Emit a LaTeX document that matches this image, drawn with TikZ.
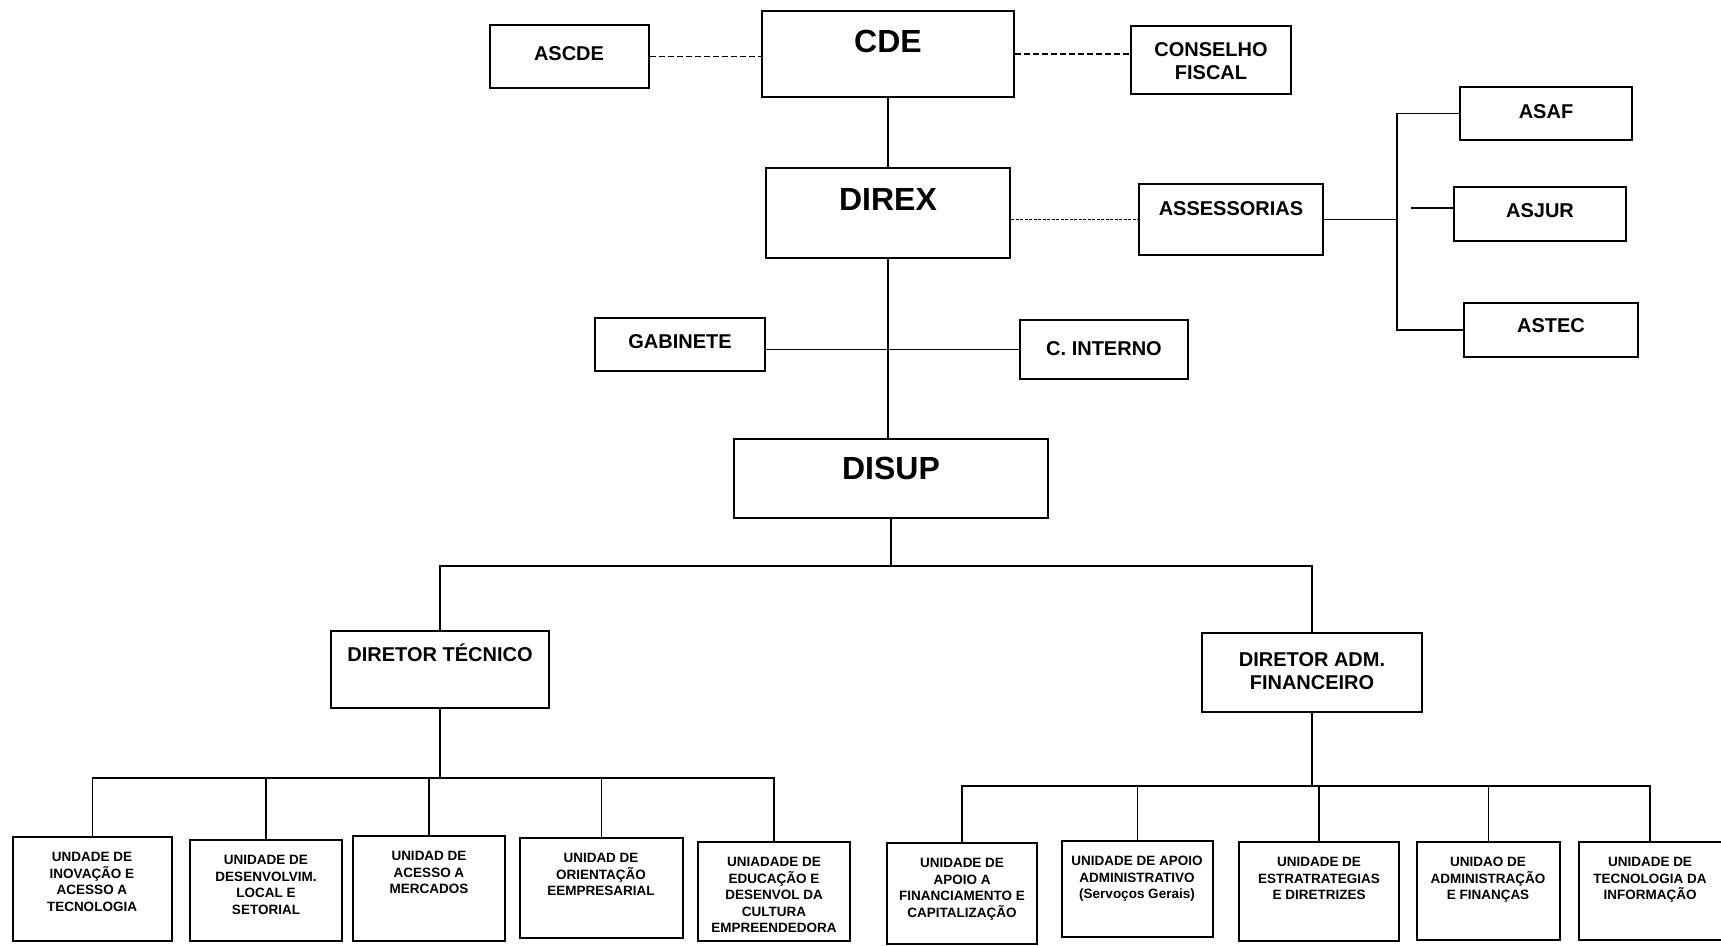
\documentclass[tikz,border=0pt]{standalone}
\usepackage{fontspec}
\setmainfont{Liberation Sans}
\usetikzlibrary{fit}
\begin{document}
\begin{tikzpicture}[x=1pt,y=-1pt,
  box/.style={draw, line width=2pt, inner sep=0pt},
  link/.style={line width=1.5pt},
  big/.style={font=\fontsize{32}{36}\selectfont\bfseries, inner sep=0pt},
  mid/.style={font=\fontsize{20}{22.5}\selectfont\bfseries, inner sep=0pt, align=center},
  small/.style={font=\fontsize{13.5}{16.5}\selectfont\bfseries, inner sep=0pt, align=center, anchor=north},
]
\fill[white] (0,0) rectangle (1721,945);
\useasboundingbox (0,0) rectangle (1721,945);

% --- council level
\node[box, fit={(490,25) (649,88)}] (ascde) {};
\node[box, fit={(762,11) (1014,97)}] (cde) {};
\node[box, fit={(1131,26) (1291,94)}] (cf) {};
\node[mid] (ascde-t) at (569,54) {ASCDE};
\node[big] (cde-t) at (888,41) {CDE};
\node[mid] (cf-t) at (1211,61) {CONSELHO\\FISCAL};

% --- executive board and advisors
\node[box, fit={(766,168) (1010,258)}] (direx) {};
\node[box, fit={(1139,184) (1323,255)}] (ass) {};
\node[box, fit={(1460,87) (1632,140)}] (asaf) {};
\node[box, fit={(1454,187) (1626,241)}] (asjur) {};
\node[box, fit={(1464,303) (1638,357)}] (astec) {};
\node[big] (direx-t) at (888,199) {DIREX};
\node[mid] (ass-t) at (1231,209) {ASSESSORIAS};
\node[mid] (asaf-t) at (1546,112) {ASAF};
\node[mid] (asjur-t) at (1540,211) {ASJUR};
\node[mid] (astec-t) at (1551,326) {ASTEC};

% --- staff offices
\node[box, fit={(595,318) (765,371)}] (gab) {};
\node[box, fit={(1020,320) (1188,379)}] (ci) {};
\node[mid] (gab-t) at (680,342) {GABINETE};
\node[mid] (ci-t) at (1104,349) {C. INTERNO};

% --- superintendence and directors
\node[box, fit={(734,439) (1048,518)}] (disup) {};
\node[big] (disup-t) at (891,468) {DISUP};
\node[box, fit={(331,631) (549,708)}] (dt) {};
\node[box, fit={(1202,633) (1422,712)}] (daf) {};
\node[mid] (dt-t) at (440,653) {DIRETOR TÉCNICO};
\node[mid] (daf-t) at (1312,671) {DIRETOR ADM.\\FINANCEIRO};

% --- technical units
\node[box, fit={(13,837) (172,941)}] (u1) {};
\node[box, fit={(190,840) (342,941)}] (u2) {};
\node[box, fit={(353,836) (505,941)}] (u3) {};
\node[box, fit={(520,838) (683,938)}] (u4) {};
\node[box, fit={(698,842) (850,941)}] (u5) {};
\node[small] (u1-t) at (92,852) {UNDADE DE\\INOVAÇÃO E\\ACESSO A\\TECNOLOGIA};
\node[small] (u2-t) at (266,855) {UNIDADE DE\\DESENVOLVIM.\\LOCAL E\\SETORIAL};
\node[small] (u3-t) at (429,851) {UNIDAD DE\\ACESSO A\\MERCADOS};
\node[small] (u4-t) at (601,853) {UNIDAD DE\\ORIENTAÇÃO\\EEMPRESARIAL};
\node[small] (u5-t) at (774,857) {UNIADADE DE\\EDUCAÇÃO E\\DESENVOL DA\\CULTURA\\EMPREENDEDORA};

% --- administrative units
\node[box, fit={(887,843) (1037,944)}] (u6) {};
\node[box, fit={(1062,841) (1213,937)}] (u7) {};
\node[box, fit={(1239,842) (1399,941)}] (u8) {};
\node[box, fit={(1417,842) (1560,940)}] (u9) {};
\node[box, fit={(1579,842) (1728,940)}] (u10) {};
\node[small] (u6-t) at (962,858) {UNIDADE DE\\APOIO A\\FINANCIAMENTO E\\CAPITALIZAÇÃO};
\node[small] (u7-t) at (1137,856) {UNIDADE DE APOIO\\ADMINISTRATIVO\\(Servoços Gerais)};
\node[small] (u8-t) at (1319,857) {UNIDADE DE\\ESTRATRATEGIAS\\E DIRETRIZES};
\node[small] (u9-t) at (1488,857) {UNIDAO DE\\ADMINISTRAÇÃO\\E FINANÇAS};
\node[small] (u10-t) at (1650,857) {UNIDADE DE\\TECNOLOGIA DA\\INFORMAÇÃO};

% --- connectors
\draw[link, dash pattern=on 6pt off 3pt] (ascde.east) -- (ascde.east -| cde.west);
\draw[link, dash pattern=on 6pt off 3pt] (cde.east) -- (cde.east -| cf.west);
\draw[link, dash pattern=on 3pt off 1.5pt] (direx.east |- ass.west) -- (ass.west);
\draw[link] (cde.south) -- (direx.north);
\draw[link] (direx.south) -- (direx.south |- disup.north);
\draw[link] (gab.east |- ci.west) -- (ci.west);

\coordinate (abus) at ([xshift=-62pt]asaf.west);
\draw[link] (asaf.west) -- (abus) |- (astec.west);
\draw[link] (ass.east) -- (ass.east -| abus);
\draw[link] ([yshift=6pt]asjur.west) -- ++(-42,0);

\coordinate (j1) at ([yshift=-47pt]disup.south);
\draw[link] (disup.south) -- (j1);
\draw[link] (dt.north) |- (j1) -| (daf.north);

\coordinate (j2) at ([yshift=-69pt]dt.south);
\draw[link] (dt.south) -- (j2);
\draw[link] (u1.north) |- (j2) -| (u5.north);
\foreach \u in {u2,u3,u4} \draw[link] (\u.north) -- (\u.north |- j2);

\coordinate (j3) at ([yshift=-73pt]daf.south);
\draw[link] (daf.south) -- (j3);
\draw[link] (u6.north) |- (j3) -| ([xshift=-3.5pt]u10.north);
\foreach \u in {u7,u8,u9} \draw[link] (\u.north) -- (\u.north |- j3);
\end{tikzpicture}
\end{document}
